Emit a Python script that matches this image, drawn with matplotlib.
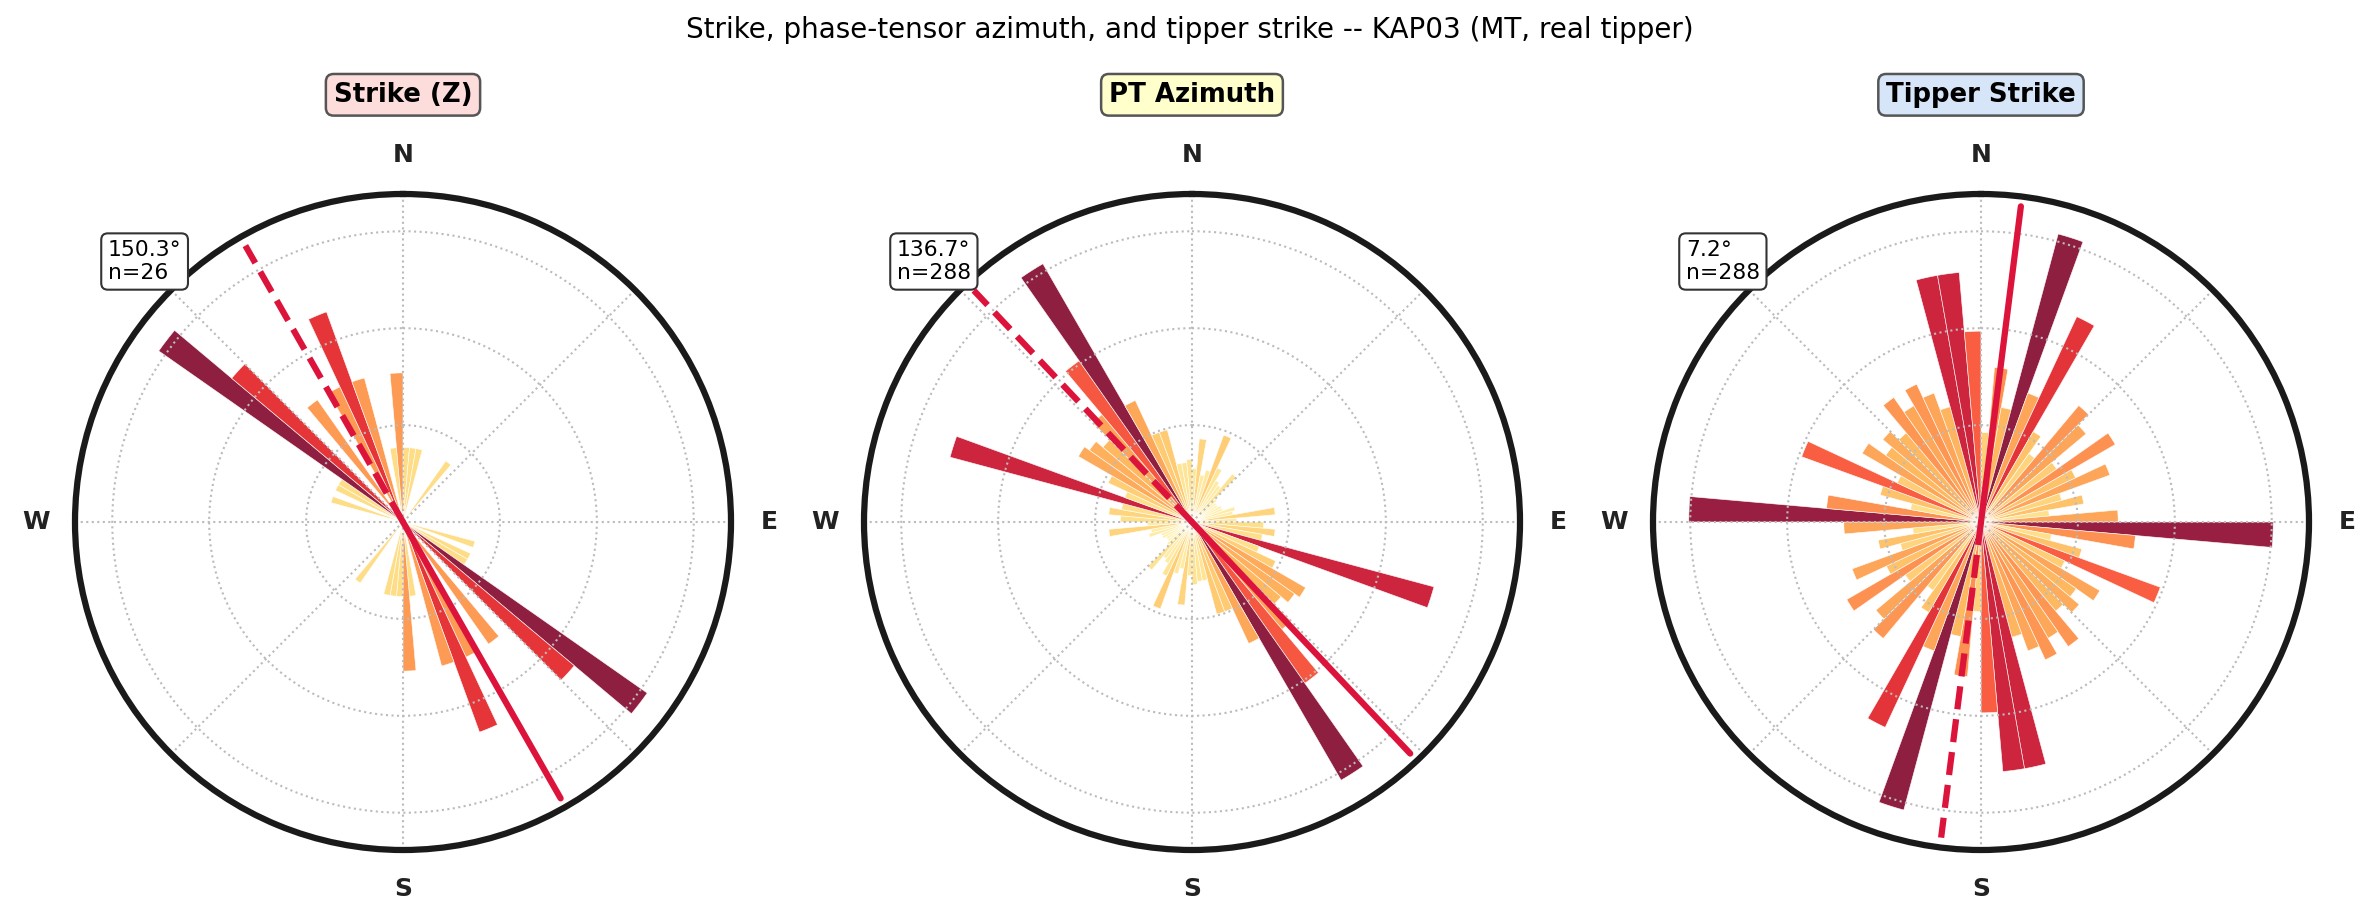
import numpy as np
import matplotlib.pyplot as plt

# 5-degree bins over 0-180 (axial data, mirrored to 180-360 when drawn)
bin_starts = np.arange(0, 180, 5)

# Strike (Z): counts per bin, n=26
strike_counts = [1, 1, 1, 0, 0, 0, 0, 1, 0, 0,
                 0, 0, 0, 0, 0, 0, 0, 0, 0, 0,
                 0, 1, 0, 1, 1, 4, 3, 0, 2, 0,
                 2, 3, 2, 0, 1, 2]

# PT azimuth: relative frequency (% of max bin), n=288
pt_rel = [18, 28, 16, 18, 31, 20, 16, 15, 21, 11,
          10, 10, 11, 11, 15, 14, 28, 15, 24, 28,
          24, 84, 24, 31, 44, 42, 39, 47, 66, 100,
          45, 32, 32, 20, 20, 21]

# Tipper strike: relative frequency (% of max bin), n=288
tip_rel = [30, 52, 39, 100, 46, 76, 35, 28, 51, 46,
           31, 52, 35, 46, 28, 35, 23, 46, 98, 52,
           24, 35, 64, 31, 46, 39, 43, 39, 51, 45,
           51, 46, 40, 84, 84, 64]

titles = ["Strike (Z)", "PT Azimuth", "Tipper Strike"]
title_colors = ["#fddcdc", "#ffffcc", "#d6e6f8"]
mean_angles = [150.3, 136.7, 7.2]
n_values = [26, 288, 288]
panel_data = [strike_counts, pt_rel, tip_rel]

fig = plt.figure(figsize=(2380 / 150, 924 / 150), dpi=150)
fig.text(0.5, 0.967, "Strike, phase-tensor azimuth, and tipper strike -- KAP03 (MT, real tipper)",
         ha="center", va="center", fontsize=13.3)

cmap = plt.get_cmap("YlOrRd")
centers_x = [403, 1192, 1981]
half = 328

for i in range(3):
    left = (centers_x[i] - half) / 2380
    ax = fig.add_axes([left, (924 - 850) / 924, 2 * half / 2380, 2 * half / 924],
                      projection="polar")
    ax.set_theta_zero_location("N")
    ax.set_theta_direction(-1)

    vals = np.array(panel_data[i], dtype=float)
    h = vals / vals.max()
    theta = np.deg2rad(np.concatenate([bin_starts, bin_starts + 180]) + 2.5)
    hh = np.concatenate([h, h])
    colors = cmap(hh)
    ax.bar(theta, hh, width=np.deg2rad(5), color=colors, alpha=0.88,
           edgecolor="white", linewidth=0.3)

    rmax = 1.1
    ang = np.deg2rad(mean_angles[i])
    ax.plot([ang, ang], [0, 0.97 * rmax], color="#dc143c", lw=3,
            solid_capstyle="round", zorder=5)
    ax.plot([ang + np.pi, ang + np.pi], [0, 0.97 * rmax], color="#dc143c", lw=3,
            ls="--", zorder=5)

    ax.set_ylim(0, rmax)
    ax.set_rgrids([0.325, 0.65, 0.975], labels=[])
    ax.set_thetagrids(np.arange(0, 360, 45), labels=["N", "", "E", "", "S", "", "W", ""],
                      fontsize=12, fontweight="bold", color="#222222")
    ax.tick_params(axis="x", pad=8)
    ax.grid(True, ls=":", lw=1.0, color="#bbbbbb")
    ax.spines["polar"].set_linewidth(3)
    ax.spines["polar"].set_color("#1a1a1a")

    ax.set_title(titles[i], fontsize=12.5, fontweight="bold", pad=20,
                 bbox=dict(boxstyle="round,pad=0.3", facecolor=title_colors[i],
                           edgecolor="#555555", lw=1.2))
    ax.text(0.05, 0.93, f"{mean_angles[i]:.1f}°\nn={n_values[i]}", transform=ax.transAxes,
            ha="left", va="top", fontsize=10.5,
            bbox=dict(boxstyle="round,pad=0.3", facecolor="white", edgecolor="#333333", lw=1))

fig.savefig("out.png", dpi=150)
